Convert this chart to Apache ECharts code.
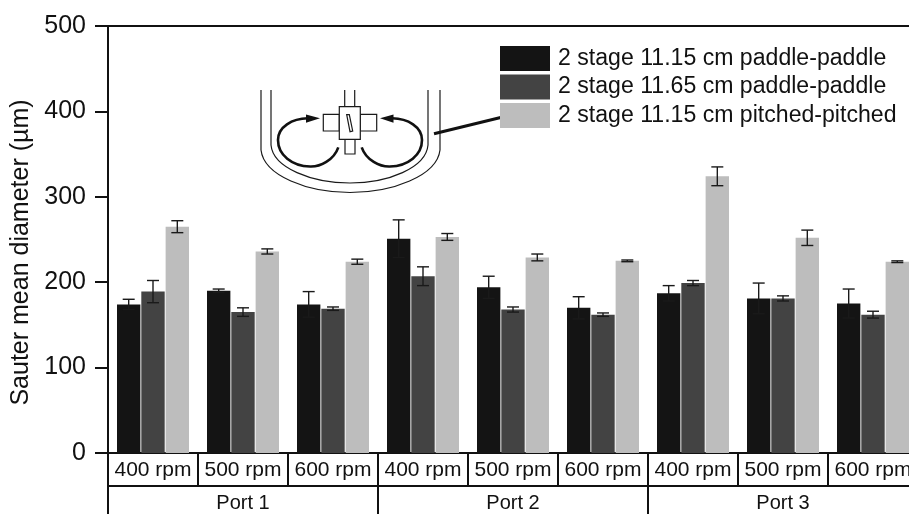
<!DOCTYPE html>
<html>
<head>
<meta charset="utf-8">
<style>html,body{margin:0;padding:0;background:#fff}#c{width:909px;height:514px}</style>
<script src="https://cdn.jsdelivr.net/npm/echarts@6/dist/echarts.min.js"></script>
</head>
<body>
<div id="c"></div>
<script>
const speeds = ['400 rpm','500 rpm','600 rpm','400 rpm','500 rpm','600 rpm','400 rpm','500 rpm','600 rpm'];
const ports = ['Port 1','Port 2','Port 3'];
const names = ['2 stage 11.15 cm paddle-paddle','2 stage 11.65 cm paddle-paddle','2 stage 11.15 cm pitched-pitched'];
const colors = ['#141414','#434343','#bdbdbd'];
const paddle1115 = [174,190,174,251,194,170,187,181,175];
const paddle1165 = [189,165,169,207,168,162,199,181,162];
const pitched1115 = [265,236,224,253,229,225,324,252,224];
const errPaddle1115 = [6,2,15,22,13,13,9,18,17];
const errPaddle1165 = [13,5,2,11,3,2,3,3,4];
const errPitched1115 = [7,3,3,4,4,1,11,9,1];
const values = [paddle1115,paddle1165,pitched1115];
const errors = [errPaddle1115,errPaddle1165,errPitched1115];
const BAR_GAP = '4%', CAT_GAP = '20%';

const chart = echarts.init(document.getElementById('c'),null,{renderer:'canvas'});
const font = '"Liberation Sans", Arial, sans-serif';
const ink = '#111';

const bars = values.map((v,i)=>({
  type:'bar', name:names[i], xAxisIndex:0, data:v, barGap:BAR_GAP, barCategoryGap:CAT_GAP,
  itemStyle:{color:colors[i]}, emphasis:{disabled:true}, silent:true, animation:false
}));
const errs = values.map((v,i)=>({
  type:'custom', name:'err'+i, xAxisIndex:0, z:5, silent:true, animation:false, clip:false,
  data:v.map((y,k)=>[k,y-errors[i][k],y+errors[i][k]]),
  encode:{x:0,y:[1,2]},
  renderItem(params,api){
    const k=api.value(0);
    const lo=api.coord([k,api.value(1)]), hi=api.coord([k,api.value(2)]);
    const layout=api.barLayout({barGap:BAR_GAP,barCategoryGap:CAT_GAP,count:3});
    const x=lo[0]+layout[i].offsetCenter, c=6;
    const style={stroke:'#1a1a1a',lineWidth:1.4,fill:null};
    return {type:'group',children:[
      {type:'line',shape:{x1:x,y1:lo[1],x2:x,y2:hi[1]},style},
      {type:'line',shape:{x1:x-c,y1:lo[1],x2:x+c,y2:lo[1]},style},
      {type:'line',shape:{x1:x-c,y1:hi[1],x2:x+c,y2:hi[1]},style}
    ]};
  }
}));

const ln = {stroke:'#1a1a1a',fill:null,lineWidth:1.2};
const blk = {stroke:'#111',fill:null,lineWidth:2.6};
const box = {stroke:'#1a1a1a',fill:'#fff',lineWidth:1.2};
const L=(x1,y1,x2,y2,style)=>({type:'line',shape:{x1,y1,x2,y2},style});
const B=(x1,y1,cpx1,cpy1,cpx2,cpy2,x2,y2,style)=>({type:'bezierCurve',shape:{x1,y1,cpx1,cpy1,cpx2,cpy2,x2,y2},style});
const diagram = [
  L(261,90,261,150,ln), B(261,150,264,176,308,192.5,350,192.5,ln), B(350,192.5,392,192.5,437,176,440,150,ln), L(440,150,440,90,ln),
  L(271,90,271,145,ln), B(271,145,273,168,312,183,350,183,ln), B(350,183,388,183,426,168,428,145,ln), L(428,145,428,90,ln),
  L(344.7,90,344.7,107,ln), L(354.7,90,354.7,107,ln),
  {type:'rect',shape:{x:345,y:139,width:10,height:15},style:box},
  {type:'rect',shape:{x:323.3,y:114.3,width:16,height:16.7},style:box},
  {type:'rect',shape:{x:360.3,y:114.3,width:16.4,height:16.7},style:box},
  {type:'rect',shape:{x:339.3,y:106.7,width:21,height:32.6},style:box},
  {type:'polygon',shape:{points:[[346.7,114.7],[349.3,114.7],[352.7,131],[350,131.7]]},style:box},
  B(338.3,147.3,334,160,320,167,310,166.5,blk), B(310,166.5,292,166,278,155,278,140,blk), B(278,140,278,127,292,118.5,308,118.3,blk),
  B(361.7,147.3,366,160,380,167,390,166.5,blk), B(390,166.5,408,166,422,155,422,140,blk), B(422,140,422,127,408,118.5,392,118.3,blk),
  {type:'polygon',shape:{points:[[306,114.5],[306,122.7],[320,118.3]]},style:{fill:'#111'}},
  {type:'polygon',shape:{points:[[393.5,114.5],[393.5,122.7],[380,118.3]]},style:{fill:'#111'}},
  L(434,133.7,501.7,117.3,{stroke:'#111',lineWidth:3})
];

chart.setOption({
  backgroundColor:'#fff',
  animation:false,
  textStyle:{fontFamily:font},
  grid:{left:108,width:810,top:26,height:427,containLabel:false,outerBoundsMode:'none'},
  legend:{
    data:names, orient:'vertical', left:495, top:41, itemWidth:50, itemHeight:25, itemGap:3.5,
    icon:'rect', selectedMode:false,
    textStyle:{fontSize:23.1,color:ink,fontFamily:font,padding:[2,0,0,3]}
  },
  xAxis:[
    {type:'category',data:speeds,position:'bottom',
     axisLine:{show:true,lineStyle:{color:ink,width:2}},
     axisTick:{show:true,length:33,inside:false,lineStyle:{color:ink,width:2}},
     axisLabel:{interval:0,fontSize:21,color:ink,margin:7,fontFamily:font,hideOverlap:false},
     splitLine:{show:false}},
    {type:'category',data:ports,position:'bottom',offset:33,
     axisLine:{show:true,lineStyle:{color:ink,width:2}},
     axisTick:{show:true,length:30,lineStyle:{color:ink,width:2}},
     axisLabel:{interval:0,fontSize:20,color:ink,margin:7,fontFamily:font},
     splitLine:{show:false}},
    {type:'category',data:ports,position:'top',
     axisLine:{show:true,lineStyle:{color:ink,width:2}},
     axisTick:{show:false},axisLabel:{show:false},splitLine:{show:false}}
  ],
  yAxis:{type:'value',min:0,max:500,interval:100,
    name:'Sauter mean diameter (\u00b5m)',nameLocation:'middle',nameRotate:90,nameGap:70,
    nameTextStyle:{fontSize:25,color:ink,fontFamily:font,padding:[0,26,0,0]},
    axisLine:{show:true,onZero:false,lineStyle:{color:ink,width:2}},
    axisTick:{show:true,length:13,lineStyle:{color:ink,width:2}},
    axisLabel:{fontSize:25,color:ink,margin:22,fontFamily:font},
    splitLine:{show:false}},
  series:[...bars,...errs],
  graphic:diagram
});
</script>
</body>
</html>
